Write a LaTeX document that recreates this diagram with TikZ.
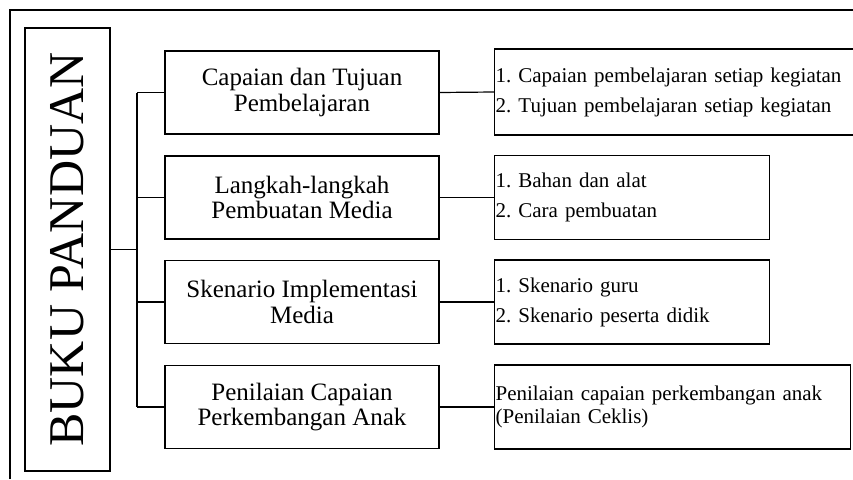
\documentclass[tikz,border=0pt]{standalone}
\usepackage{fontspec}
\setmainfont{Liberation Serif}
\usepackage{xcolor}
\usetikzlibrary{calc}
\frenchspacing
\tikzset{
  frame/.style={draw=black, line width=1.4pt},
  titlebox/.style={draw=black, line width=1.3pt, minimum width=443pt, minimum height=85pt,
    rotate=90, inner sep=0pt, font=\fontsize{50}{52}\selectfont},
  midbox/.style={draw=black, line width=1.3pt, minimum width=274pt, minimum height=83pt,
    inner sep=0pt, align=center, font=\fontsize{25}{25.5}\selectfont},
  listbox/.style={draw=black, line width=1.3pt, anchor=west, minimum height=84pt,
    inner xsep=1pt, inner ysep=0pt, align=left, font=\fontsize{21}{30}\selectfont},
  conn/.style={draw=black, line width=1.2pt},
}
\begin{document}
\begin{tikzpicture}[x=1pt, y=-1pt]
  \useasboundingbox (0,0) rectangle (853,479);
  % outer frame, only top and left visible
  \draw[frame] (10,479) -- (10,10) -- (856,10);

  \node[titlebox] (title) at (67.5,249.5) {BUKU PANDUAN};
  \coordinate (trk) at (137,249.5);

  \node[midbox] (cp) at (302,92.5) {Capaian dan Tujuan\\Pembelajaran};
  \node[midbox] (lk) at (302,197.5) {Langkah-langkah\\Pembuatan Media};
  \node[midbox] (sk) at (302,302) {Skenario Implementasi\\Media};
  \node[midbox] (pn) at (302,407) {Penilaian Capaian\\Perkembangan Anak};

  \node[listbox, minimum height=86pt, text width=362pt] (cp-list) at (494,92)
    {1. Capaian pembelajaran setiap kegiatan\\2. Tujuan pembelajaran setiap kegiatan};
  \node[listbox, text width=273pt] (lk-list) at (494,197.5)
    {1. Bahan dan alat\\2. Cara pembuatan};
  \node[listbox, text width=273pt] (sk-list) at (494,302)
    {1. Skenario guru\\2. Skenario peserta didik};
  \node[listbox, text width=354pt, font=\fontsize{21}{23}\selectfont] (pn-list) at (494,407)
    {Penilaian capaian perkembangan anak\\(Penilaian Ceklis)};

  % tree connectors
  \draw[conn] (title.south) -- (trk);
  \draw[conn] (cp.west -| trk) -- (pn.west -| trk);
  \foreach \n in {cp,lk,sk,pn} {
    \draw[conn] (\n.west -| trk) -- (\n.west);
    \draw[conn] (\n.east) -- (\n-list.west);
  }
\end{tikzpicture}
\end{document}
